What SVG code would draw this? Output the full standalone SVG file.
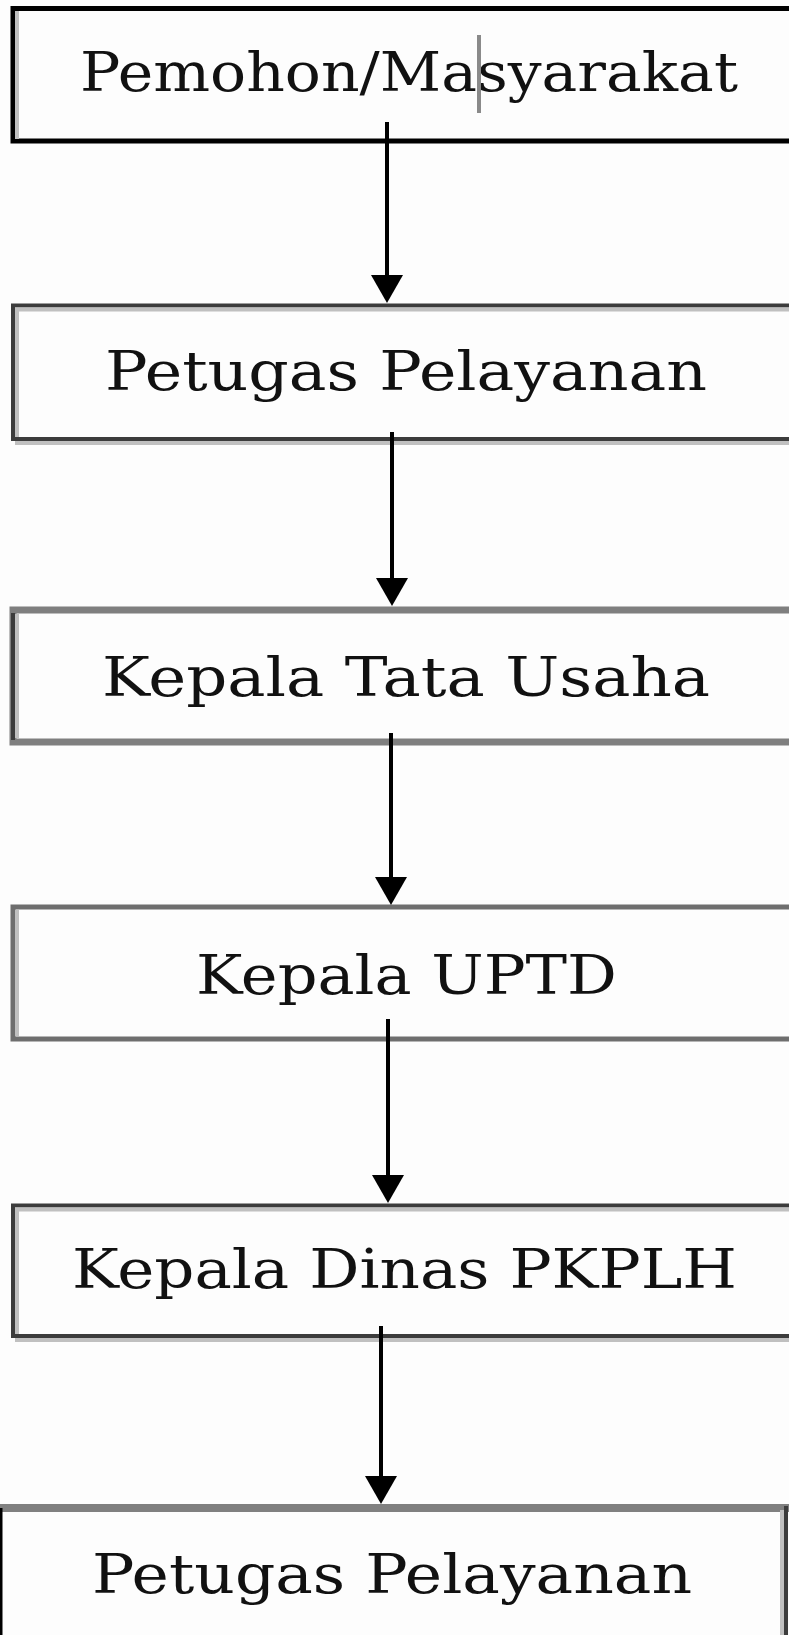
<svg xmlns="http://www.w3.org/2000/svg" width="789" height="1635" viewBox="0 0 789 1635">
<style>
.bg{fill:#fdfdfd}
.box{fill:#fdfdfd}
.lbl{font-family:"DejaVu Serif","Liberation Serif",serif;font-size:54px;fill:#111;text-anchor:middle}
.conn{stroke:#000;stroke-width:4;fill:none}
.shadow{stroke:#c0c0c0;stroke-width:4;fill:none}
</style>
<defs>
<marker id="ah" viewBox="0 0 28 32" refX="22" refY="16" markerWidth="28" markerHeight="32" markerUnits="userSpaceOnUse" orient="auto">
<path d="M0,0 L28,16 L0,32 Z" fill="#000"/>
</marker>
</defs>
<rect class="bg" x="0" y="0" width="789" height="1635"/>

<g id="node1">
<rect class="box" x="13" y="8.5" width="800" height="132.5" stroke="#000" stroke-width="5"/>
<line x1="17" y1="11" x2="17" y2="139" class="shadow"/>
<text class="lbl" x="409" y="91" textLength="658" lengthAdjust="spacingAndGlyphs">Pemohon/Masyarakat</text>
<rect x="477" y="35" width="4" height="78" fill="#8a8a8a"/>
</g>

<g id="node2">
<rect class="box" x="13" y="305.5" width="800" height="133.5" stroke="#3c3c3c" stroke-width="4"/>
<line x1="15" y1="309.5" x2="789" y2="309.5" class="shadow"/>
<line x1="15" y1="443" x2="789" y2="443" class="shadow"/>
<line x1="17" y1="309" x2="17" y2="437" class="shadow"/>
<text class="lbl" x="406" y="390" textLength="602" lengthAdjust="spacingAndGlyphs">Petugas Pelayanan</text>
</g>

<g id="node3">
<rect class="box" x="13" y="610" width="800" height="132" stroke="#7f7f7f" stroke-width="7"/>
<line x1="13" y1="613" x2="13" y2="740" stroke="#3c3c3c" stroke-width="4"/>
<line x1="17" y1="614" x2="17" y2="738" class="shadow"/>
<text class="lbl" x="406" y="696" textLength="608" lengthAdjust="spacingAndGlyphs">Kepala Tata Usaha</text>
</g>

<g id="node4">
<rect class="box" x="13" y="907" width="800" height="132" stroke="#6e6e6e" stroke-width="5"/>
<line x1="17" y1="910" x2="17" y2="1036" class="shadow"/>
<text class="lbl" x="406.5" y="994" textLength="421" lengthAdjust="spacingAndGlyphs">Kepala UPTD</text>
</g>

<g id="node5">
<rect class="box" x="13" y="1205.5" width="800" height="130.5" stroke="#3c3c3c" stroke-width="4"/>
<line x1="15" y1="1209.5" x2="789" y2="1209.5" class="shadow"/>
<line x1="15" y1="1340" x2="789" y2="1340" class="shadow"/>
<line x1="17" y1="1209" x2="17" y2="1334" class="shadow"/>
<text class="lbl" x="404.5" y="1288" textLength="665" lengthAdjust="spacingAndGlyphs">Kepala Dinas PKPLH</text>
</g>

<g id="node6">
<rect class="box" x="1" y="1508" width="785" height="200"/>
<line x1="0" y1="1508" x2="789" y2="1508" stroke="#808080" stroke-width="8"/>
<line x1="1" y1="1508" x2="1" y2="1635" stroke="#000" stroke-width="3"/>
<line x1="782" y1="1510" x2="782" y2="1635" stroke="#c0c0c0" stroke-width="4"/>
<line x1="786" y1="1506" x2="786" y2="1635" stroke="#3c3c3c" stroke-width="4"/>
<text class="lbl" x="392" y="1593" textLength="600" lengthAdjust="spacingAndGlyphs">Petugas Pelayanan</text>
</g>

<g id="connectors">
<line class="conn" x1="387" y1="122" x2="387" y2="297" marker-end="url(#ah)"/>
<line class="conn" x1="392" y1="432" x2="392" y2="600" marker-end="url(#ah)"/>
<line class="conn" x1="391" y1="733" x2="391" y2="899" marker-end="url(#ah)"/>
<line class="conn" x1="388" y1="1019" x2="388" y2="1197" marker-end="url(#ah)"/>
<line class="conn" x1="381" y1="1326" x2="381" y2="1498" marker-end="url(#ah)"/>
</g>
</svg>
